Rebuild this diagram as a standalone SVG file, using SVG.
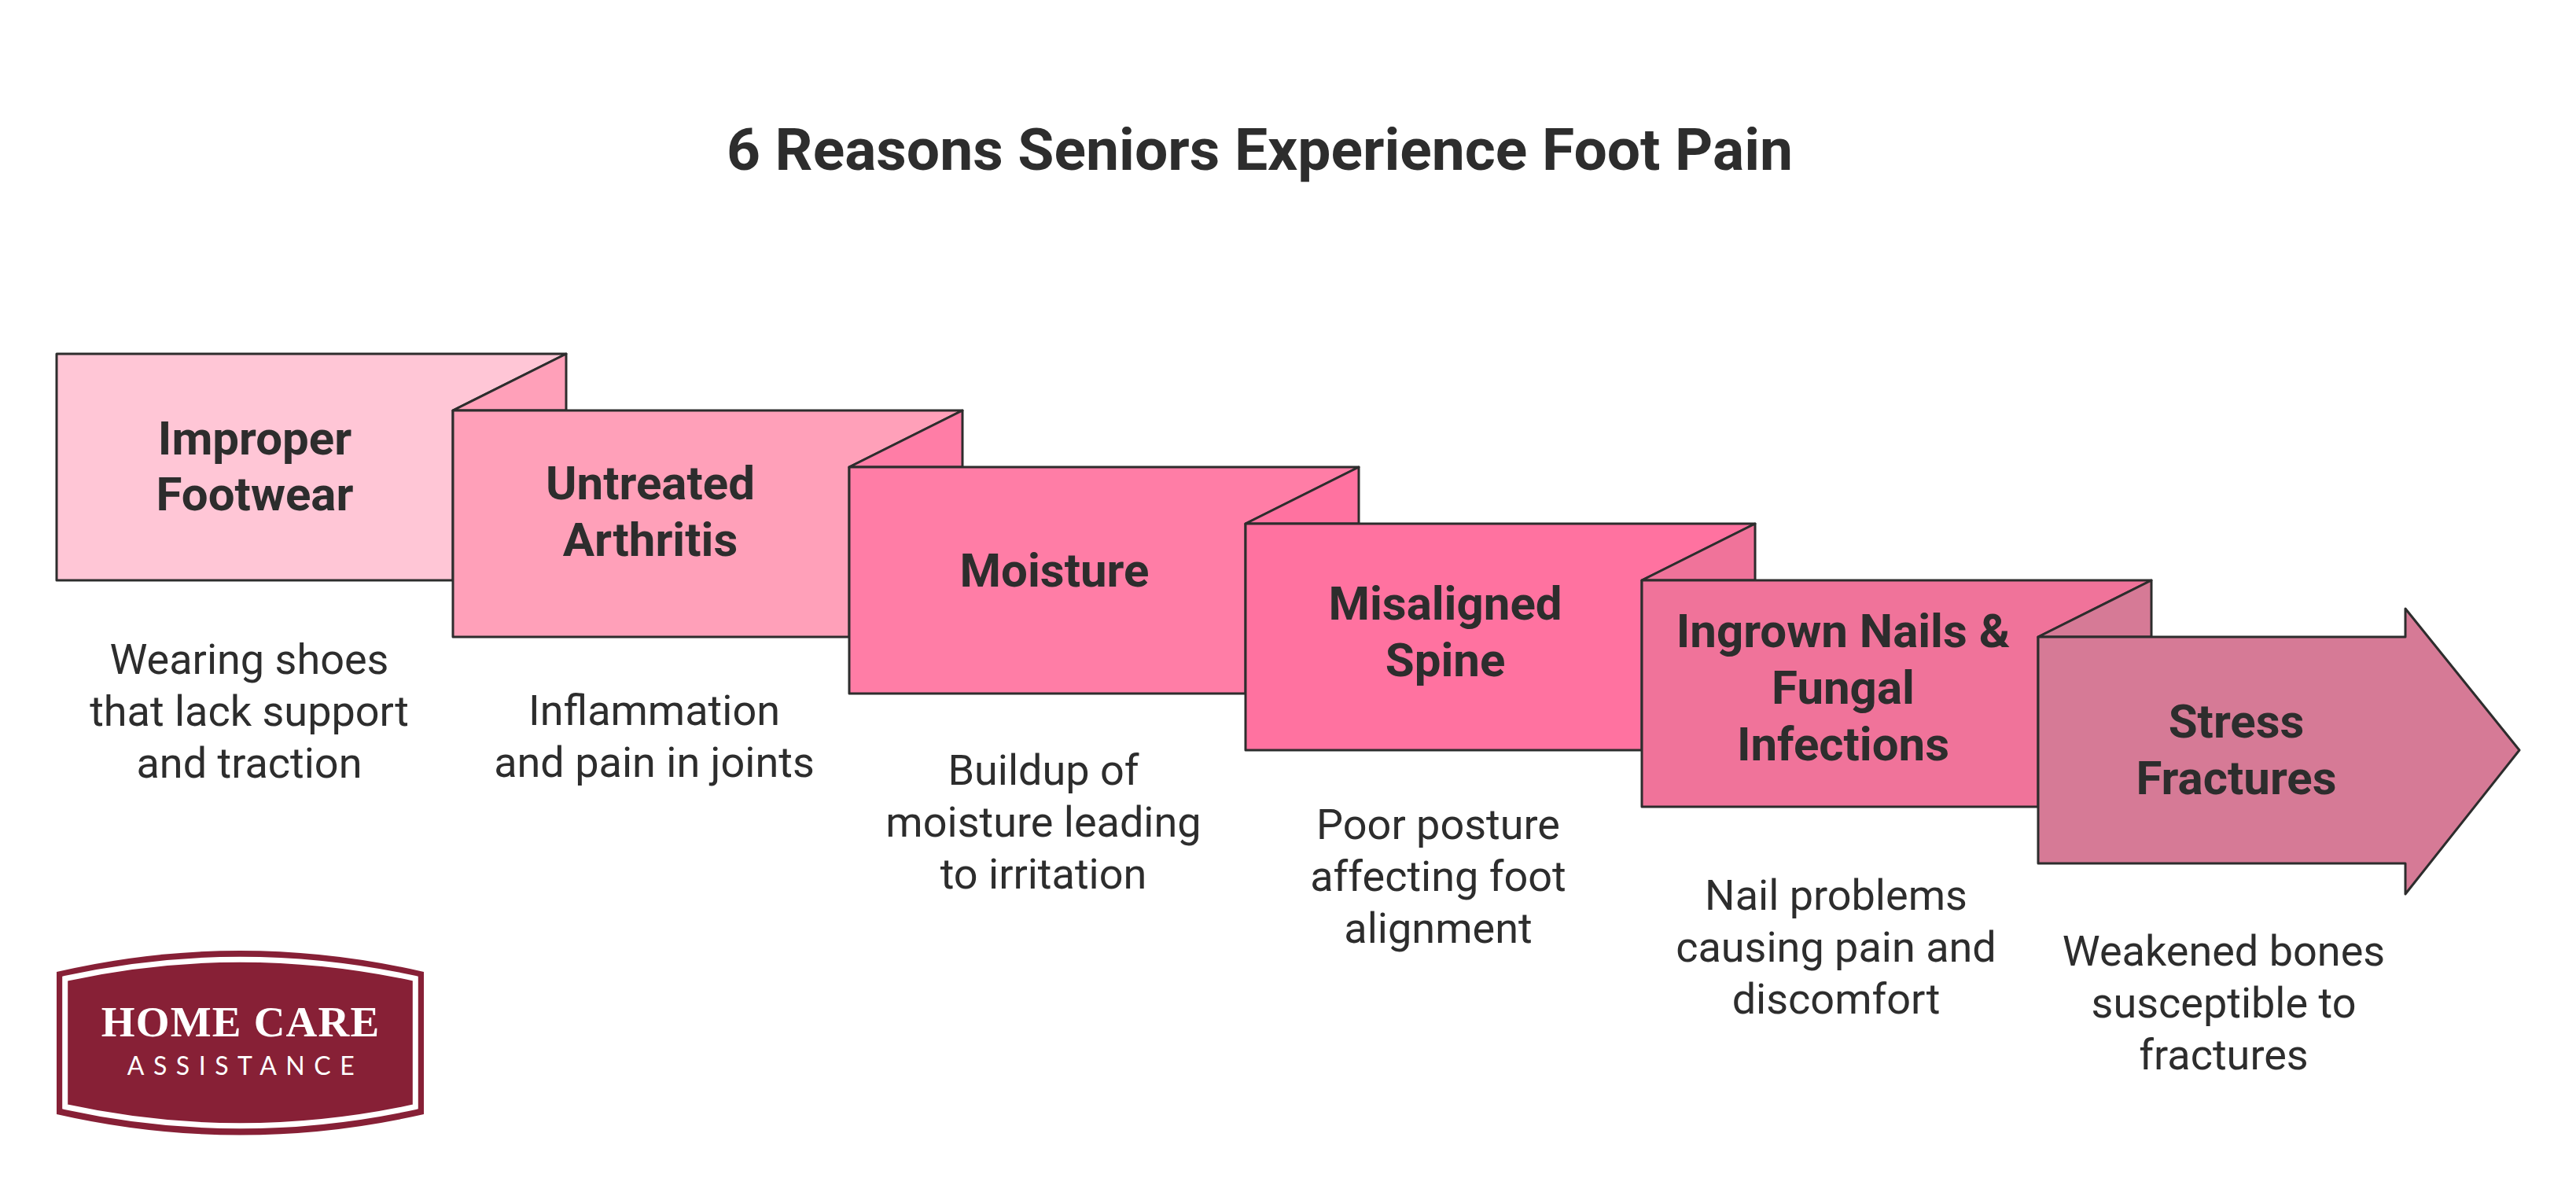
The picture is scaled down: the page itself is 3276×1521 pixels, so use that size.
<svg xmlns="http://www.w3.org/2000/svg" width="3276" height="1521" viewBox="0 0 3276 1521">
<style>
.s{stroke:#2d2d2d;stroke-width:3;stroke-linejoin:round}
text{font-family:Roboto,"Liberation Sans",sans-serif;fill:#2d2d2d;text-anchor:middle}
.t{font-size:75px;font-weight:700}
.n{font-size:60px;font-weight:700}
.d{font-size:54px;font-weight:400}
</style>
<rect width="3276" height="1521" fill="#ffffff"/>
<text id="title" class="t" x="1602" y="216">6 Reasons Seniors Experience Foot Pain</text>
<g id="connectors"/>
<g id="node-1">
<path class="s" fill="#ffc6d6" d="M72 450H720L576 522V738H72Z"/>
<path class="s" fill="#ffa0b9" d="M720 450V522H576Z"/>
<text class="n" x="324" y="578">Improper</text><text class="n" x="324" y="649">Footwear</text>
<text class="d" x="317" y="857">Wearing shoes</text><text class="d" x="317" y="923">that lack support</text><text class="d" x="317" y="989">and traction</text>
</g>
<g id="node-2">
<path class="s" fill="#ffa0b9" d="M576 522H1224L1080 594V810H576Z"/>
<path class="s" fill="#ff7da6" d="M1224 522V594H1080Z"/>
<text class="n" x="827" y="635">Untreated</text><text class="n" x="827" y="707">Arthritis</text>
<text class="d" x="832" y="922">Inflammation</text><text class="d" x="832" y="988">and pain in joints</text>
</g>
<g id="node-3">
<path class="s" fill="#ff7da6" d="M1080 594H1728L1584 666V882H1080Z"/>
<path class="s" fill="#ff72a0" d="M1728 594V666H1584Z"/>
<text class="n" x="1341" y="746">Moisture</text>
<text class="d" x="1327" y="998">Buildup of</text><text class="d" x="1327" y="1064">moisture leading</text><text class="d" x="1327" y="1130">to irritation</text>
</g>
<g id="node-4">
<path class="s" fill="#ff72a0" d="M1584 666H2232L2088 738V954H1584Z"/>
<path class="s" fill="#f0739a" d="M2232 666V738H2088Z"/>
<text class="n" x="1838" y="788">Misaligned</text><text class="n" x="1838" y="860">Spine</text>
<text class="d" x="1829" y="1067">Poor posture</text><text class="d" x="1829" y="1133">affecting foot</text><text class="d" x="1829" y="1199">alignment</text>
</g>
<g id="node-5">
<path class="s" fill="#f0739a" d="M2088 738H2736L2592 810V1026H2088Z"/>
<path class="s" fill="#d67a96" d="M2736 738V810H2592Z"/>
<text class="n" x="2344" y="823">Ingrown Nails &amp;</text><text class="n" x="2344" y="895">Fungal</text><text class="n" x="2344" y="967">Infections</text>
<text class="d" x="2335" y="1157">Nail problems</text><text class="d" x="2335" y="1223">causing pain and</text><text class="d" x="2335" y="1289">discomfort</text>
</g>
<g id="node-6">
<path class="s" fill="#d67a96" d="M2592 810H3059V774L3204 954L3059 1137V1098H2592Z"/>
<text class="n" x="2844" y="938">Stress</text><text class="n" x="2844" y="1010">Fractures</text>
<text class="d" x="2828" y="1228">Weakened bones</text><text class="d" x="2828" y="1294">susceptible to</text><text class="d" x="2828" y="1360">fractures</text>
</g>
<g id="logo">
<path fill="#872036" d="M72 1236Q305 1182 539 1236V1417Q305 1470 72 1417Z"/>
<path fill="none" stroke="#ffffff" stroke-width="7" d="M82.700 1244.500Q305 1196 528.300 1244.500V1407.500Q305 1456 82.700 1407.500Z"/>
<text x="306" y="1318" style="font-family:'Liberation Serif',serif;font-size:55px;font-weight:700;fill:#ffffff;letter-spacing:1.200px">HOME CARE</text>
<text x="312" y="1367" style="font-family:Lato,'Liberation Sans',sans-serif;font-size:32px;font-weight:400;fill:#ffffff;letter-spacing:11.500px">ASSISTANCE</text>
</g>
</svg>
